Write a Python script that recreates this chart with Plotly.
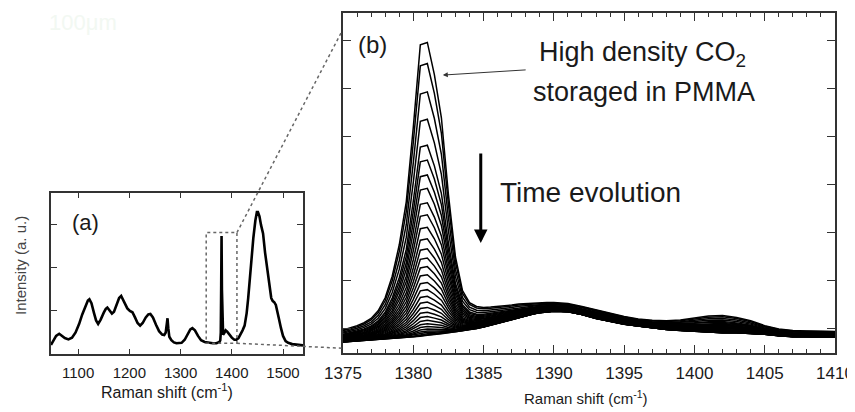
import plotly.graph_objects as go

# ---------------- Panel (a): full Raman spectrum ----------------
shift_a = [1047, 1052, 1057, 1063, 1068, 1074, 1081, 1088, 1095, 1102, 1108, 1114, 1119, 1122,
           1126, 1131, 1135, 1139, 1144, 1150, 1154, 1157, 1161, 1166, 1170, 1175, 1180, 1184,
           1188, 1192, 1196, 1201, 1206, 1211, 1216, 1221, 1226, 1232, 1237, 1241, 1246, 1252,
           1258, 1264, 1268, 1271, 1273, 1274.5, 1276, 1278, 1282, 1287, 1292, 1297, 1302, 1308,
           1314, 1319, 1323, 1328, 1334, 1340, 1347, 1355, 1363, 1370, 1374, 1376, 1377.5, 1378.5,
           1379.3, 1380, 1380.7, 1381.5, 1383, 1385, 1388, 1391, 1395, 1400, 1405, 1409, 1413,
           1417, 1421, 1425, 1429, 1432, 1435, 1438, 1442, 1446, 1449, 1451, 1454, 1457, 1461,
           1465, 1468, 1471, 1474, 1477, 1480, 1483, 1486, 1489, 1492, 1496, 1500, 1505, 1510,
           1518, 1527, 1539]
intensity_a = [0.21, 0.30, 0.42, 0.47, 0.43, 0.37, 0.34, 0.38, 0.50, 0.70, 0.92, 1.12, 1.24, 1.27,
               1.18, 0.95, 0.78, 0.70, 0.80, 0.96, 1.05, 1.08, 1.02, 0.94, 0.98, 1.15, 1.30, 1.35,
               1.25, 1.13, 1.06, 1.00, 0.97, 0.85, 0.72, 0.66, 0.72, 0.85, 0.92, 0.93, 0.85, 0.68,
               0.53, 0.45, 0.44, 0.50, 0.72, 0.83, 0.60, 0.40, 0.32, 0.27, 0.25, 0.25, 0.26, 0.33,
               0.47, 0.57, 0.60, 0.55, 0.42, 0.32, 0.28, 0.26, 0.25, 0.25, 0.26, 0.28, 0.32, 0.50,
               1.60, 2.74, 1.50, 0.60, 0.45, 0.48, 0.55, 0.52, 0.45, 0.38, 0.33, 0.33, 0.37,
               0.45, 0.55, 0.66, 0.95, 1.30, 1.73, 2.20, 2.69, 3.10, 3.30, 3.30, 3.20, 3.00, 2.80,
               2.35, 2.10, 1.85, 1.50, 1.30, 1.23, 1.20, 1.14, 1.00, 0.82, 0.60, 0.42, 0.30, 0.26,
               0.23, 0.21, 0.20]
ticks_a = [1100, 1200, 1300, 1400, 1500]
zoom_box = [1350, 1410, 0.25, 2.82]  # x0, x1, y0, y1 of the dotted zoom window

# ---------------- Panel (b): time evolution near 1381 cm-1 ----------------
shift_b = [1375, 1375.5, 1376, 1376.5, 1377, 1377.5, 1378, 1378.5, 1379, 1379.5, 1380, 1380.5,
           1381, 1381.5, 1382, 1382.5, 1383, 1383.5, 1384, 1384.5, 1385, 1385.5, 1386, 1386.5,
           1387, 1387.5, 1388, 1388.5, 1389, 1389.5, 1390, 1391, 1392, 1393, 1394, 1395, 1396,
           1397, 1398, 1399, 1400, 1401, 1402, 1403, 1404, 1405, 1406, 1407, 1408, 1409, 1410]
first_spectrum = [0.48, 0.52, 0.57, 0.63, 0.72, 0.88, 1.15, 1.60, 2.25, 3.15, 4.70, 6.42,
                  6.47, 5.80, 4.90, 3.30, 2.00, 1.30, 1.05, 0.97, 0.95, 0.96, 0.97, 0.99,
                  1.00, 1.02, 1.03, 1.04, 1.05, 1.05, 1.05, 1.03, 0.97, 0.90, 0.83, 0.76, 0.71,
                  0.68, 0.67, 0.69, 0.73, 0.77, 0.78, 0.74, 0.67, 0.57, 0.50, 0.47, 0.46, 0.46, 0.45]
last_spectrum = [0.23, 0.24, 0.25, 0.26, 0.27, 0.28, 0.29, 0.30, 0.31, 0.32, 0.33, 0.35,
                 0.37, 0.38, 0.40, 0.42, 0.44, 0.46, 0.49, 0.51, 0.54, 0.58, 0.62, 0.66,
                 0.70, 0.74, 0.78, 0.81, 0.84, 0.86, 0.87, 0.86, 0.80, 0.72, 0.66, 0.60, 0.56,
                 0.52, 0.49, 0.47, 0.45, 0.43, 0.42, 0.42, 0.41, 0.39, 0.36, 0.34, 0.34, 0.33, 0.33]
# intensity at 1381 cm-1 of each successive spectrum (read from the peak tops)
peak_heights = [6.47, 6.03, 5.44, 4.87, 4.33, 4.02, 3.71, 3.43, 3.13, 2.88, 2.62, 2.38, 2.17,
                1.98, 1.80, 1.63, 1.47, 1.32, 1.18, 1.06, 0.95, 0.85, 0.76, 0.68, 0.61, 0.55,
                0.50, 0.46, 0.43, 0.40, 0.38, 0.37]
ticks_b = [1375, 1380, 1385, 1390, 1395, 1400, 1405, 1410]

# ---------------- layout geometry ----------------
# the page body adds an 8px margin, so the figure is 8px smaller and placed at (8, 8)
OFF = 8
W, H = 855 - OFF, 412 - OFF


def xp(p):  # screen pixel -> paper x
    return (p - OFF) / W


def yp(p):  # screen pixel -> paper y
    return 1 - (p - OFF) / H


dom_ax = [xp(51), xp(303)]
dom_ay = [yp(354), yp(193)]
dom_bx = [xp(343), xp(835)]
dom_by = [yp(353), yp(13)]
rng_ax = [1047, 1539]
rng_ay = [0, 3.74]
rng_bx = [1375, 1410]
rng_by = [0, 340 / 48]

FONT = "Liberation Sans, Arial, sans-serif"
INK = "#1a1a1a"
AX = "#333333"

fig = go.Figure()
fig.add_trace(go.Scatter(x=shift_a, y=intensity_a, mode="lines", xaxis="x", yaxis="y",
                         line=dict(color="black", width=2.6), hoverinfo="skip"))

i_ref = shift_b.index(1381)
for h in peak_heights:
    f = (h - last_spectrum[i_ref]) / (first_spectrum[i_ref] - last_spectrum[i_ref])
    y = [lo + f * (hi - lo) for lo, hi in zip(last_spectrum, first_spectrum)]
    fig.add_trace(go.Scatter(x=shift_b, y=y, mode="lines", xaxis="x2", yaxis="y2",
                             line=dict(color="black", width=1.5), hoverinfo="skip"))


def to_paper(v, dom, rng):
    return dom[0] + (v - rng[0]) / (rng[1] - rng[0]) * (dom[1] - dom[0])


axis_common = dict(showline=True, linecolor=AX, linewidth=1.6, mirror="ticks", ticks="inside",
                   tickcolor=AX, showgrid=False, zeroline=False, fixedrange=True,
                   automargin=False)

fig.update_layout(
    width=W, height=H, margin=dict(l=0, r=0, t=0, b=0, pad=0, autoexpand=False),
    paper_bgcolor="white", plot_bgcolor="white", showlegend=False,
    xaxis=dict(domain=dom_ax, range=rng_ax, tickvals=ticks_a, ticklen=5, ticklabelstandoff=4,
               tickfont=dict(family=FONT, color=INK, size=15), anchor="y", **axis_common),
    yaxis=dict(domain=dom_ay, range=rng_ay, tickvals=[1, 2, 3], ticklen=6, showticklabels=False,
               anchor="x", **axis_common),
    xaxis2=dict(domain=dom_bx, range=rng_bx, tickvals=ticks_b, ticklen=8, ticklabelstandoff=4,
                minor=dict(dtick=1, tick0=1375, ticklen=4, ticks="inside", tickcolor=AX),
                tickfont=dict(family=FONT, color=INK, size=17), anchor="y2", **axis_common),
    yaxis2=dict(domain=dom_by, range=rng_by, tick0=340 / 48 - 6.58, dtick=1, ticklen=8,
                showticklabels=False, anchor="x2", **axis_common),
)

# dotted zoom window and connectors
x0, x1, y0, y1 = zoom_box
fig.add_shape(type="rect", xref="x", yref="y", x0=x0, x1=x1, y0=y0, y1=y1,
              line=dict(color="#666", width=1.5, dash="dot"))
bx_left = to_paper(1374.9, dom_bx, rng_bx)
fig.add_shape(type="line", xref="paper", yref="paper",
              x0=to_paper(x1, dom_ax, rng_ax), y0=to_paper(y1, dom_ay, rng_ay),
              x1=bx_left, y1=to_paper(6.69, dom_by, rng_by),
              line=dict(color="#666", width=1.5, dash="dot"))
fig.add_shape(type="line", xref="paper", yref="paper",
              x0=to_paper(x1, dom_ax, rng_ax), y0=to_paper(y0, dom_ay, rng_ay),
              x1=bx_left, y1=to_paper(0.10, dom_by, rng_by),
              line=dict(color="#666", width=1.5, dash="dot"))


def note(text, x, y, size, xref="x2", yref="y2", color=INK, angle=0):
    fig.add_annotation(xref=xref, yref=yref, x=x, y=y, text=text, showarrow=False,
                       xanchor="center", yanchor="middle", textangle=angle,
                       font=dict(family=FONT, size=size, color=color))


# texts
note("(a)", 1115, 3.05, 22, xref="x", yref="y")
note("(b)", 1377.1, 6.42, 24)
note("High density CO<sub>2</sub>", 1396.3, 6.22, 27)
note("storaged in PMMA", 1396.4, 5.44, 27)
note("Time evolution", 1392.6, 3.35, 28)
# arrows
fig.add_annotation(xref="x2", yref="y2", axref="x2", ayref="y2", x=1382.1, y=5.79,
                   ax=1388.1, ay=5.9, text="", showarrow=True, arrowhead=2, arrowsize=1,
                   arrowwidth=1, arrowcolor="#333")
fig.add_annotation(xref="x2", yref="y2", axref="x2", ayref="y2", x=1384.8, y=2.29,
                   ax=1384.8, ay=4.19, text="", showarrow=True, arrowhead=2, arrowsize=0.9,
                   arrowwidth=3, arrowcolor="black")
# axis titles
note("Raman shift (cm<sup>-1</sup>)", xp(167), yp(391), 16, xref="paper", yref="paper")
note("Raman shift (cm<sup>-1</sup>)", xp(586), yp(397), 15, xref="paper", yref="paper")
note("Intensity (a. u.)", xp(20), yp(266), 15, xref="paper", yref="paper", color="#444",
     angle=-90)
note("100μm", xp(83), yp(22), 22, xref="paper", yref="paper", color="#f2f8f2")

fig.write_html("out.html")
